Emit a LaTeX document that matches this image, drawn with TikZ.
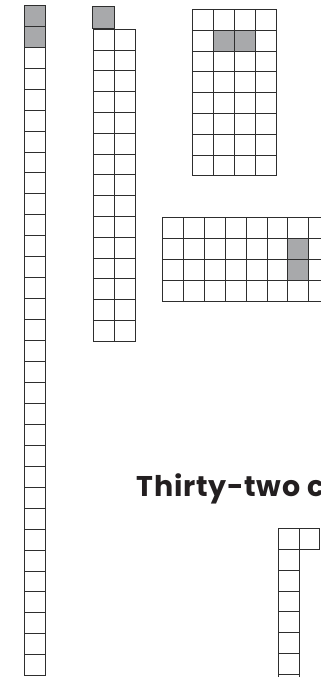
\documentclass[tikz,border=0pt]{standalone}
\usepackage{fontspec}
\newfontfamily\titlefont[LetterSpace=2.5]{Poppins}
\definecolor{linec}{HTML}{2E2E2E}
\definecolor{shade}{HTML}{A8A9AB}
\definecolor{textc}{HTML}{231F20}
\tikzset{
  cell/.style={draw=linec, line width=0.9pt, fill=white},
  shadedcell/.style={cell, fill=shade},
  titletext/.style={anchor=base west, inner sep=0pt, text=textc, font=\titlefont\bfseries\fontsize{28.5}{34}\selectfont}
}
\begin{document}
\begin{tikzpicture}[x=1pt,y=1pt]
\useasboundingbox (0,0) rectangle (321,-677);
\clip (0,0) rectangle (321,-677);
% column of 32
\foreach \i in {0,...,31} {
  \ifnum\i<2
    \filldraw[shadedcell] (24.5,{-5.3-20.95*\i}) rectangle ++(21,-20.95);
  \else
    \filldraw[cell] (24.5,{-5.3-20.95*\i}) rectangle ++(21,-20.95);
  \fi
}
% two columns of 15 plus one
\filldraw[shadedcell] (92.6,-6.7) rectangle (114,-28);
\foreach \i in {0,...,14} \foreach \j in {0,1} {
  \filldraw[cell] ({93+21*\j},{-29.3-20.8*\i}) rectangle ++(21,-20.8);
}
% 4 x 8 grid
\foreach \i in {0,...,7} \foreach \j in {0,...,3} {
  \filldraw[cell] ({192.3+21.1*\j},{-9.3-20.83*\i}) rectangle ++(21.1,-20.83);
}
\foreach \j in {1,2} {
  \filldraw[shadedcell] ({192.3+21.1*\j},{-9.3-20.83}) rectangle ++(21.1,-20.83);
}
% 8 x 4 grid
\foreach \i in {0,...,3} \foreach \j in {0,...,7} {
  \filldraw[cell] ({162.7+20.86*\j},{-217.3-21.1*\i}) rectangle ++(20.86,-21.1);
}
\foreach \i in {1,2} {
  \filldraw[shadedcell] ({162.7+20.86*6},{-217.3-21.1*\i}) rectangle ++(20.86,-21.1);
}
% bottom right
\filldraw[cell] (299.1,-528.3) rectangle ++(20.8,-20.9);
\foreach \i in {0,...,8} {
  \filldraw[cell] (278.3,{-528.3-20.9*\i}) rectangle ++(20.8,-20.9);
}
\node[titletext] (title) at (136.7,-496.7) {Thirty-two c};
\end{tikzpicture}
\end{document}
